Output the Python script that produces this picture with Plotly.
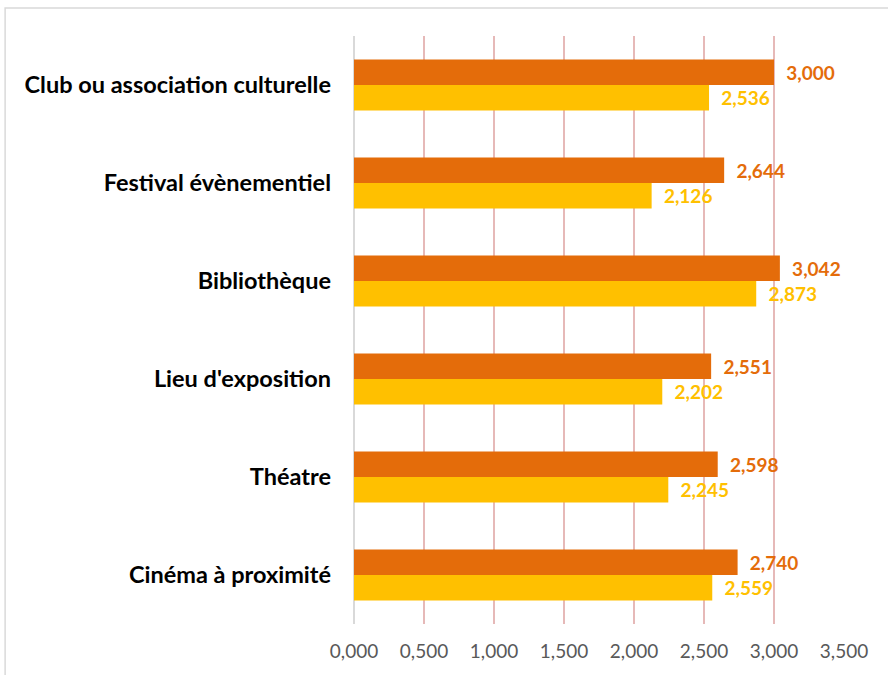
import plotly.graph_objects as go

categories = ["Cinéma à proximité", "Théatre", "Lieu d'exposition",
              "Bibliothèque", "Festival évènementiel", "Club ou association culturelle"]
orange_vals = [2.740, 2.598, 2.551, 3.042, 2.644, 3.000]
yellow_vals = [2.559, 2.245, 2.202, 2.873, 2.126, 2.536]
x_ticks = [0, 0.5, 1.0, 1.5, 2.0, 2.5, 3.0, 3.5]

ORANGE = "#E46C0A"
YELLOW = "#FFC000"
FONT = "Lato"

fig = go.Figure()
fig.add_trace(go.Bar(
    y=categories, x=yellow_vals, orientation="h", name="B",
    marker=dict(color=YELLOW, line=dict(width=0)),
    texttemplate="\u00a0\u00a0%{x:.3f}", textposition="outside", cliponaxis=False,
    textfont=dict(color=YELLOW, size=19, family=FONT, weight="bold"),
))
fig.add_trace(go.Bar(
    y=categories, x=orange_vals, orientation="h", name="A",
    marker=dict(color=ORANGE, line=dict(width=0)),
    texttemplate="\u00a0\u00a0%{x:.3f}", textposition="outside", cliponaxis=False,
    textfont=dict(color=ORANGE, size=19, family=FONT, weight="bold"),
))

fig.update_layout(
    width=888, height=675,
    margin=dict(l=354, r=44, t=36, b=51),
    paper_bgcolor="white", plot_bgcolor="white",
    barmode="group", bargap=0.48, bargroupgap=0,
    showlegend=False,
    separators=", ",
    font=dict(family=FONT),
    xaxis=dict(
        range=[0, 3.5], tickvals=x_ticks, tickformat=".3f",
        showgrid=True, gridcolor="#E6B9B8", gridwidth=1.5,
        zeroline=True, zerolinecolor="#D9D9D9", zerolinewidth=1.5,
        tickfont=dict(size=19, color="#595959", family=FONT),
        ticks="", ticklabelstandoff=14,
    ),
    yaxis=dict(
        categoryorder="array", categoryarray=categories,
        showgrid=False, ticks="",
        tickfont=dict(size=23.5, color="#000000", family=FONT, weight="bold"),
        ticklabelstandoff=22,
    ),
    shapes=[dict(type="rect", xref="paper", yref="paper",
                 x0=-0.712, x1=1.3, y0=-0.2, y1=1.0476,
                 line=dict(color="#D9D9D9", width=1.5), layer="below")],
)

fig.write_html("out.html", config={"displayModeBar": False},
               post_script="document.body.style.margin='0px';document.body.style.overflow='hidden';")
